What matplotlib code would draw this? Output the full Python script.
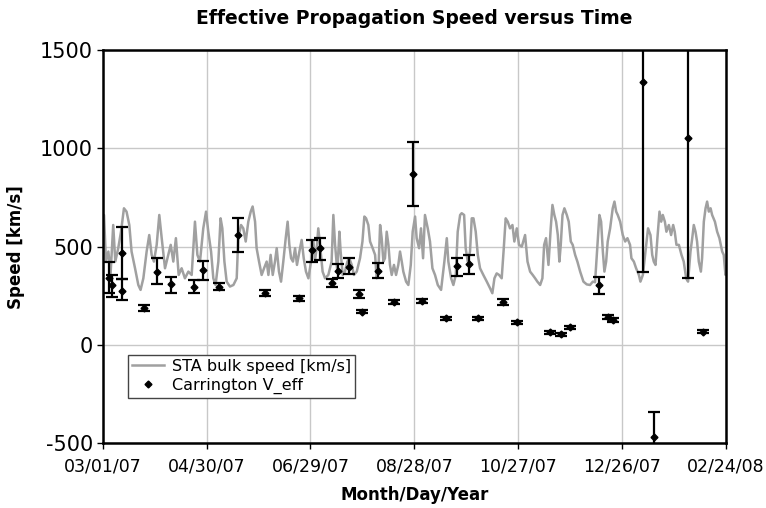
import numpy as np
import matplotlib
matplotlib.use("Agg")
import matplotlib.pyplot as plt
import matplotlib.dates as mdates
from matplotlib.lines import Line2D

plt.rcParams["axes.unicode_minus"] = False

start = np.datetime64("2007-03-01")

# STA bulk speed (days since 03/01/07, km/s)
sta_day = [0, 0.8, 1.9, 3.3, 4.6, 6.1, 7.3, 9.0, 10.6, 12.3, 13.8, 15.4, 16.7, 18.7, 20.6, 21.9,
           23.5, 25.4, 26.9, 28.3, 29.6, 31.2, 32.7, 34.1, 36.0, 37.9, 39.3, 40.8, 42.3, 43.9,
           45.6, 47.5, 49.5, 51.4, 53.3, 54.7, 56.2, 58.1, 59.7,
           61.0, 62.6, 63.9, 65.2, 66.8, 68.1, 69.1, 70.3, 71.6, 73.5, 75.5, 77.4, 78.3, 79.9,
           81.2, 82.6, 84.1, 85.5, 86.6, 88.0, 88.9, 90.3, 91.8, 93.2, 94.7, 95.7, 97.0, 98.2,
           99.5, 100.5, 101.8, 103.0, 104.3, 105.7, 106.8, 107.8, 108.8, 109.9, 111.1, 112.2,
           113.6, 114.9, 116.1, 117.4, 118.8, 120.3, 121.7,
           122.6, 123.6, 124.5, 125.5, 127.0, 128.4, 130.3, 132.2, 133.2, 134.2, 135.5, 136.7,
           137.4, 138.6, 139.9, 141.3, 142.4, 143.8, 145.1, 146.7, 148.6, 150.0, 151.1, 152.1,
           153.4, 154.4, 155.9, 157.3, 158.2, 159.2, 160.2, 161.1, 162.1, 163.0, 164.0, 165.0,
           165.9, 166.9, 168.2, 169.4, 170.7, 171.7, 172.7, 173.6, 175.2, 176.5, 177.9, 179.0,
           180.4,
           181.3, 182.7, 183.8, 185.0, 186.1, 187.7, 189.0, 190.4, 191.9, 193.5, 195.4, 197.3,
           198.7, 199.6, 201.2, 202.5, 203.9, 205.0, 206.4, 207.3, 208.7, 209.6, 210.8, 212.1,
           213.1, 214.1, 215.4, 216.6, 217.9, 219.8, 221.8, 223.7, 225.0, 226.2, 227.5, 228.9,
           230.4, 231.6, 232.7, 233.9, 235.2, 236.6, 237.7, 239.1, 240.4, 242.0,
           243.9, 245.3, 246.8, 248.3, 249.7, 251.0, 252.6, 253.9, 254.9, 256.0, 257.4, 258.7,
           259.7, 260.8, 261.8, 262.8, 263.7, 264.5, 265.5, 266.6, 268.0, 269.1, 270.3, 271.4,
           272.8, 274.1, 275.7, 277.6, 279.5, 281.4, 283.0, 284.3, 285.7, 286.8, 287.8, 288.8,
           289.7, 290.7, 291.6, 293.0, 294.5, 295.5, 296.5, 297.4, 298.8, 300.3, 301.7, 303.0,
           304.5,
           305.3, 306.7, 308.0, 309.6, 310.5, 311.9, 313.4, 314.9, 316.3, 317.3, 318.2, 319.2,
           320.3, 321.5, 322.5, 323.4, 324.6, 325.5, 326.9, 328.2, 329.4, 330.3, 331.3, 332.7,
           334.2, 335.5, 336.9, 338.0, 339.4, 340.4, 341.3, 342.3, 343.2, 344.2, 345.4, 346.1,
           347.1, 348.1, 349.0, 350.0, 351.0, 351.9, 353.5, 354.8, 356.1, 357.7, 358.6, 359.6,
           360.0]
sta_speed = [661, 661, 424, 475, 364, 610, 424, 492, 576, 695, 678, 610, 475, 390, 305, 280,
             339, 475, 559, 458, 424, 509, 661, 543, 390, 458, 509, 424, 543, 356,
             390, 339, 373, 356, 627, 458, 424, 593, 678,
             576, 475, 339, 305, 424, 644, 593, 424, 322, 297, 305, 339, 543, 610,
             593, 526, 627, 678, 704, 627, 492, 424, 356, 390, 424, 356, 458, 356,
             424, 492, 373, 322, 424, 543, 627, 509, 441, 424, 492, 407,
             475, 534, 441, 373, 339, 424, 526,
             432, 492, 593, 509, 373, 339, 356, 424, 661, 509, 373, 576,
             475, 356, 373, 424, 441, 407, 356, 373, 441, 526, 653, 644,
             610, 526, 492, 458, 339, 373, 610, 543, 424, 441, 576, 509,
             407, 356, 407, 356, 407, 475, 424, 373, 322, 305, 407, 576,
             653,
             543, 492, 593, 441, 661, 593, 526, 390, 356, 305, 280, 424,
             543, 424, 339, 305, 356, 576, 661, 670, 661, 492, 424, 475,
             644, 644, 576, 458, 390, 356, 322, 288, 263, 339, 364, 356,
             339, 492, 644, 627, 593, 610, 526, 593, 509, 500,
             559, 424, 373, 356, 339, 322, 305, 339, 509, 543, 407, 593,
             712, 661, 627, 559, 424, 509, 661, 695, 661, 627, 526, 509,
             458, 424, 373, 322, 308, 305, 322, 319, 509, 661, 627, 475,
             373, 424, 526, 593, 695, 729, 678, 661, 627, 559, 526, 543,
             509,
             441, 424, 390, 356, 322, 356, 475, 593, 559, 458, 424, 407,
             543, 678, 627, 661, 627, 576, 610, 559, 610, 576, 509, 509,
             458, 424, 339, 322, 475, 543, 610, 576, 526, 424, 373, 441,
             627, 695, 729, 678, 695, 661, 627, 576, 543, 475, 458, 356,
             400]

# Carrington V_eff (days since 03/01/07, km/s) with error bounds
v_day = [3.8, 5.4, 11.3, 11.3, 24.0, 31.2, 39.2, 53.0, 58.1, 67.2, 78.3, 93.7, 113.6, 120.7,
         125.5, 132.2, 136.1, 142.2, 148.2, 150.0, 159.2, 168.4, 178.9, 184.6, 198.1, 204.4,
         211.6, 216.9, 231.4, 239.1, 258.0, 264.7, 269.9, 286.3, 292.0, 294.9, 311.9, 318.6,
         337.9, 346.7]
v_eff = [339, 305, 466, 275, 186, 373, 308, 295, 381, 297, 559, 263, 237, 483,
         492, 314, 376, 398, 259, 169, 376, 217, 869, 224, 135, 403,
         410, 135, 220, 115, 64, 54, 90, 305, 144, 127, 1335, -467,
         1052, 68]
v_lo = [263, 246, 336, 229, 171, 308, 263, 262, 330, 277, 471, 248, 225, 424,
        432, 294, 339, 359, 241, 161, 339, 207, 707, 212, 127, 353,
        361, 127, 205, 109, 58, 48, 82, 258, 134, 119, 370, -700,
        341, 62]
v_hi = [420, 356, 602, 336, 201, 441, 347, 330, 427, 317, 648, 278, 249, 534,
        546, 334, 410, 444, 277, 177, 415, 227, 1030, 236, 143, 444,
        458, 143, 235, 121, 70, 60, 98, 347, 154, 135, 2300, -342,
        2300, 74]

x_ticks = ["2007-03-01", "2007-04-30", "2007-06-29", "2007-08-28", "2007-10-27",
           "2007-12-26", "2008-02-24"]
y_ticks = [-500, 0, 500, 1000, 1500]


def to_dates(days):
    return (start + (np.array(days) * 86400).astype("timedelta64[s]")).astype("datetime64[s]").astype(object)


fig = plt.figure(figsize=(7.66, 5.08), dpi=100)
ax = fig.add_axes([0.134, 0.1274, 0.814, 0.7742])

ax.plot(to_dates(sta_day), sta_speed, color="#a0a0a0", lw=1.8, zorder=2)

vd = to_dates(v_day)
v = np.array(v_eff)
yerr = np.vstack([v - np.array(v_lo), np.array(v_hi) - v])
ax.errorbar(vd, v, yerr=yerr, fmt="D", color="black", ms=3.5, ecolor="black",
            elinewidth=1.6, capsize=4, capthick=1.6, zorder=3)

xt = [np.datetime64(t).astype("datetime64[s]").astype(object) for t in x_ticks]
ax.set_xlim(xt[0], xt[-1])
ax.set_xticks(xt)
ax.xaxis.set_major_formatter(mdates.DateFormatter("%m/%d/%y"))
ax.set_ylim(-500, 1500)
ax.set_yticks(y_ticks)

ax.grid(True, color="#c8c8c8", lw=1)
ax.set_axisbelow(True)
for s in ax.spines.values():
    s.set_linewidth(1.8)
    s.set_color("black")
ax.tick_params(axis="y", labelsize=15, length=4, width=1, pad=3)
ax.tick_params(axis="x", labelsize=12.5, length=4, width=1, pad=6)

ax.set_title("Effective Propagation Speed versus Time", fontsize=13.5, fontweight="bold", pad=19)
ax.set_xlabel("Month/Day/Year", fontsize=12, fontweight="bold", labelpad=8)
ax.set_ylabel("Speed [km/s]", fontsize=12, fontweight="bold")
ax.yaxis.set_label_coords(-0.125, 0.5)

handles = [Line2D([], [], color="#a0a0a0", lw=1.8),
           Line2D([], [], color="black", marker="D", ms=3.5, lw=0)]
labels = ["STA bulk speed [km/s]", "Carrington V_eff"]
leg = ax.legend(handles, labels, loc="lower left", bbox_to_anchor=(0.04, 0.115), fontsize=11.5,
                frameon=True, fancybox=False, edgecolor="#444444", framealpha=1,
                borderpad=0.25, handlelength=2.0, handletextpad=0.5, labelspacing=0.25,
                borderaxespad=0)
leg.get_frame().set_linewidth(1.0)

fig.savefig("out.png", dpi=100)
